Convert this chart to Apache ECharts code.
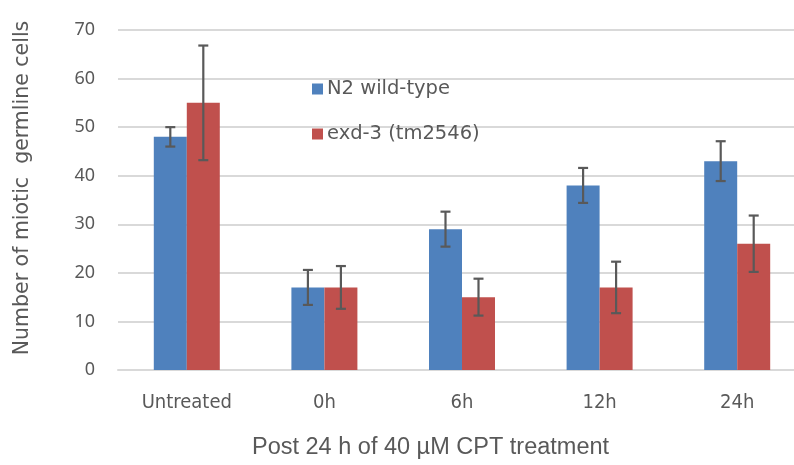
<!DOCTYPE html>
<html>
<head>
<meta charset="utf-8">
<script src="https://cdn.jsdelivr.net/npm/echarts@6/dist/echarts.min.js"></script>
<style>html,body{margin:0;padding:0;background:#fff}#c{width:794px;height:465px}</style>
</head>
<body>
<div id="c"></div>
<script>
var categories = ['Untreated', '0h', '6h', '12h', '24h'];
var n2Values = [48, 17, 29, 38, 43];
var n2Errors = [2, 3.6, 3.6, 3.6, 4.1];
var exdValues = [55, 17, 15, 17, 26];
var exdErrors = [11.8, 4.4, 3.8, 5.3, 5.8];
var yTicks = [0, 10, 20, 30, 40, 50, 60, 70];

var BAR_W = 33;
var COLORS = ['#4F81BD', '#C0504D'];
var TEXT = '#595959';
var FONT = '"DejaVu Sans", "Noto Sans", sans-serif';

function errorSeries(values, errors, side) {
  var data = values.map(function (v, i) { return [i, v - errors[i], v + errors[i]]; });
  return {
    type: 'custom',
    z: 10,
    silent: true,
    data: data,
    encode: { x: 0, y: [1, 2] },
    renderItem: function (params, api) {
      var lo = api.coord([api.value(0), api.value(1)]);
      var hi = api.coord([api.value(0), api.value(2)]);
      var x = lo[0] + side * BAR_W / 2;
      var cap = 5;
      var st = { stroke: '#595959', lineWidth: 2.2 };
      return {
        type: 'group',
        children: [
          { type: 'line', shape: { x1: x, y1: lo[1], x2: x, y2: hi[1] }, style: st },
          { type: 'line', shape: { x1: x - cap, y1: lo[1], x2: x + cap, y2: lo[1] }, style: st },
          { type: 'line', shape: { x1: x - cap, y1: hi[1], x2: x + cap, y2: hi[1] }, style: st }
        ]
      };
    }
  };
}

var chart = echarts.init(document.getElementById('c'), null, { renderer: 'canvas' });
chart.setOption({
  animation: false,
  backgroundColor: '#fff',
  grid: { left: 118, top: 30, right: -12, bottom: 95, containLabel: false, outerBoundsMode: 'none' },
  legend: {
    orient: 'vertical',
    left: 307,
    top: 73,
    itemWidth: 11,
    itemHeight: 11,
    itemGap: 23,
    icon: 'rect',
    data: ['N2 wild-type', 'exd-3 (tm2546)'],
    textStyle: { color: TEXT, fontSize: 19.5, fontFamily: FONT, lineHeight: 22, padding: [0, 0, 0, -1] }
  },
  xAxis: {
    type: 'category',
    data: categories,
    axisLine: { lineStyle: { color: '#d9d9d9', width: 2 } },
    axisTick: { show: false },
    axisLabel: { color: TEXT, fontSize: 20, fontFamily: '"DejaVu Sans Condensed", "DejaVu Sans", sans-serif', margin: 23 }
  },
  yAxis: {
    type: 'value',
    min: yTicks[0],
    max: yTicks[yTicks.length - 1],
    interval: 10,
    name: 'Number of miotic  germline cells',
    nameLocation: 'middle',
    nameGap: 85,
    nameTextStyle: { color: TEXT, fontSize: 20.5, fontFamily: FONT, padding: [0, 0, 0, 24] },
    axisLine: { show: false },
    axisTick: { show: false },
    axisLabel: { color: TEXT, fontSize: 18, fontFamily: '"Noto Sans", sans-serif', margin: 23 },
    splitLine: { lineStyle: { color: '#d9d9d9', width: 2 } }
  },
  graphic: [{
    type: 'text',
    left: 252,
    top: 436,
    style: { text: 'Post 24 h of 40 \u00b5M CPT treatment', fill: TEXT, font: '23.5px "Liberation Sans", Arial, sans-serif' }
  }],
  series: [
    { name: 'N2 wild-type', type: 'bar', data: n2Values, barWidth: BAR_W, barGap: '0%', itemStyle: { color: COLORS[0] } },
    { name: 'exd-3 (tm2546)', type: 'bar', data: exdValues, barWidth: BAR_W, barGap: '0%', itemStyle: { color: COLORS[1] } },
    errorSeries(n2Values, n2Errors, -1),
    errorSeries(exdValues, exdErrors, 1)
  ]
});
</script>
</body>
</html>
